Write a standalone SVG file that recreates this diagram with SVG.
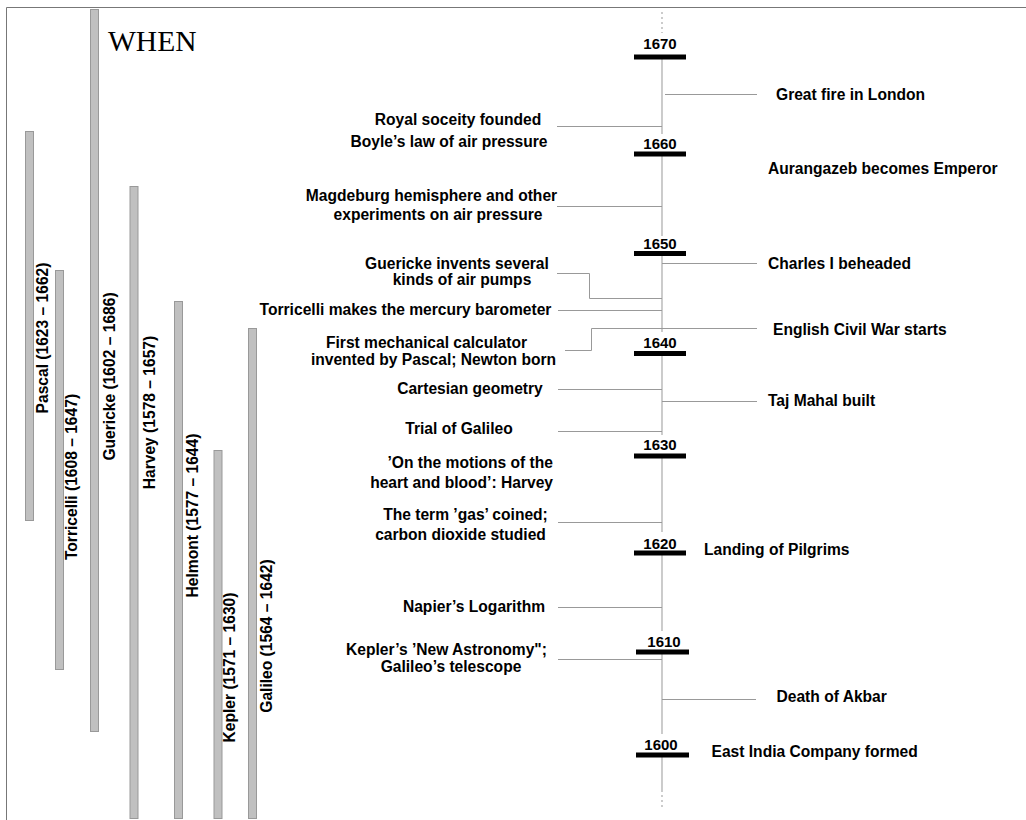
<svg xmlns="http://www.w3.org/2000/svg" width="1026" height="820" viewBox="0 0 1026 820">
<style>
text{font-family:"Liberation Sans",Arial,Helvetica,sans-serif;font-weight:bold;font-size:15.6px;fill:#000}
.yr{font-size:15px;text-anchor:middle}
.mid{text-anchor:middle}
.end{text-anchor:end}
.life{fill:#c0c0c0;stroke:#999;stroke-width:1}
.bar{fill:#000}
.ax{stroke:#aaa;stroke-width:1.2;fill:none}
.dot{stroke:#aaa;stroke-width:1.2;stroke-dasharray:2 3;fill:none}
.con{stroke:#999;stroke-width:1;fill:none}
.title{font-family:"Liberation Serif","Times New Roman",serif;font-weight:normal;font-size:29.5px}
</style>
<rect width="1026" height="820" fill="#fff"/>
<path d="M6.5,820 V7.5 H1026" fill="none" stroke="#777" stroke-width="1"/>
<text class="title" x="108" y="50.5">WHEN</text>

<g id="lifespans">
<g id="pascal"><rect class="life" x="25.5" y="131.5" width="8" height="389"/><text transform="translate(48,338) rotate(-90)" class="mid">Pascal (1623 – 1662)</text></g>
<g id="torricelli"><rect class="life" x="55.5" y="270.5" width="8" height="399"/><text transform="translate(77,477) rotate(-90)" class="mid">Torricelli (1608 – 1647)</text></g>
<g id="guericke"><rect class="life" x="90.5" y="9.5" width="8" height="722"/><text transform="translate(115,376.5) rotate(-90)" class="mid">Guericke (1602 – 1686)</text></g>
<g id="harvey"><rect class="life" x="130" y="186.5" width="8" height="632"/><text transform="translate(155,412.5) rotate(-90)" class="mid">Harvey (1578 – 1657)</text></g>
<g id="helmont"><rect class="life" x="174.5" y="301.5" width="8" height="517"/><text transform="translate(198,515.5) rotate(-90)" class="mid">Helmont (1577 – 1644)</text></g>
<g id="kepler"><rect class="life" x="214" y="450.5" width="8" height="368"/><text transform="translate(235,667.5) rotate(-90)" class="mid">Kepler (1571 – 1630)</text></g>
<g id="galileo"><rect class="life" x="248.5" y="328.5" width="8" height="490"/><text transform="translate(272,636) rotate(-90)" class="mid">Galileo (1564 – 1642)</text></g>
</g>

<g id="axis">
<path class="dot" d="M662,12 V33 M662,790 V808"/>
<path class="ax" d="M662,59 V134 M662,156 V236 M662,256 V332 M662,356 V435 M662,458 V532 M662,555 V631 M662,654 V734 M662,757 V790"/>
</g>

<g id="years">
<g id="y1670"><text class="yr" x="660" y="49">1670</text><rect class="bar" x="634" y="54.5" width="52" height="5"/></g>
<g id="y1660"><text class="yr" x="660" y="149">1660</text><rect class="bar" x="634" y="151.5" width="52" height="5"/></g>
<g id="y1650"><text class="yr" x="660" y="248.5">1650</text><rect class="bar" x="634" y="251" width="52" height="5"/></g>
<g id="y1640"><text class="yr" x="660" y="348">1640</text><rect class="bar" x="634" y="351" width="52" height="5"/></g>
<g id="y1630"><text class="yr" x="660" y="450">1630</text><rect class="bar" x="634" y="453.5" width="52" height="5"/></g>
<g id="y1620"><text class="yr" x="660" y="548.5">1620</text><rect class="bar" x="634" y="550.5" width="52" height="5"/></g>
<g id="y1610"><text class="yr" x="664" y="646.5">1610</text><rect class="bar" x="636" y="649.5" width="53" height="5"/></g>
<g id="y1600"><text class="yr" x="661" y="749.5">1600</text><rect class="bar" x="636" y="752.5" width="53" height="5"/></g>
</g>

<g id="connectors">
<path class="con" d="M665,94.5 H757"/>
<path class="con" d="M557,126.5 H662"/>
<path class="con" d="M557,206.5 H662"/>
<path class="con" d="M662,263.5 H757"/>
<path class="con" d="M557,273.5 H589.5 V298.5 H662"/>
<path class="con" d="M558,310.5 H662"/>
<path class="con" d="M565,350.5 H591.5 V328.5 H662"/>
<path class="con" d="M662,328.5 H757"/>
<path class="con" d="M558,389.5 H662"/>
<path class="con" d="M662,401.5 H757"/>
<path class="con" d="M558,431.5 H662"/>
<path class="con" d="M558,522.5 H662"/>
<path class="con" d="M558,607.5 H662"/>
<path class="con" d="M558,659.5 H662"/>
<path class="con" d="M662,699.5 H756"/>
</g>

<g id="events-right">
<g id="e-fire"><text x="776" y="99.5">Great fire in London</text></g>
<g id="e-aurangazeb"><text x="768" y="174">Aurangazeb becomes Emperor</text></g>
<g id="e-charles"><text x="768" y="268.5">Charles I beheaded</text></g>
<g id="e-civilwar"><text x="773" y="335">English Civil War starts</text></g>
<g id="e-tajmahal"><text x="768" y="405.5">Taj Mahal built</text></g>
<g id="e-pilgrims"><text x="704" y="554.5">Landing of Pilgrims</text></g>
<g id="e-akbar"><text x="776.5" y="702">Death of Akbar</text></g>
<g id="e-eic"><text x="711.5" y="757">East India Company formed</text></g>
</g>

<g id="events-left">
<g id="e-royal"><text class="mid" x="458" y="124.5">Royal soceity founded</text></g>
<g id="e-boyle"><text class="mid" x="449" y="147">Boyle’s law of air pressure</text></g>
<g id="e-magdeburg"><text class="mid" x="431.5" y="201">Magdeburg hemisphere and other</text><text class="mid" x="438" y="220">experiments on air pressure</text></g>
<g id="e-pumps"><text class="mid" x="457" y="268.5">Guericke invents several</text><text class="mid" x="462" y="285">kinds of air pumps</text></g>
<g id="e-barometer"><text class="mid" x="405.5" y="315">Torricelli makes the mercury barometer</text></g>
<g id="e-calculator"><text class="mid" x="426.5" y="348">First mechanical calculator</text><text class="mid" x="433.5" y="365">invented by Pascal; Newton born</text></g>
<g id="e-cartesian"><text class="mid" x="470" y="393.5">Cartesian geometry</text></g>
<g id="e-trial"><text class="mid" x="459" y="434">Trial of Galileo</text></g>
<g id="e-harvey"><text class="end" x="553" y="467.5">’On the motions of the</text><text class="end" x="553" y="488">heart and blood’: Harvey</text></g>
<g id="e-gas"><text class="mid" x="465.5" y="520">The term ’gas’ coined;</text><text class="mid" x="460.5" y="540">carbon dioxide studied</text></g>
<g id="e-napier"><text class="mid" x="474" y="612">Napier’s Logarithm</text></g>
<g id="e-kepler"><text class="mid" x="446.5" y="654.5">Kepler’s ’New Astronomy";</text><text class="mid" x="451" y="672">Galileo’s telescope</text></g>
</g>
</svg>
